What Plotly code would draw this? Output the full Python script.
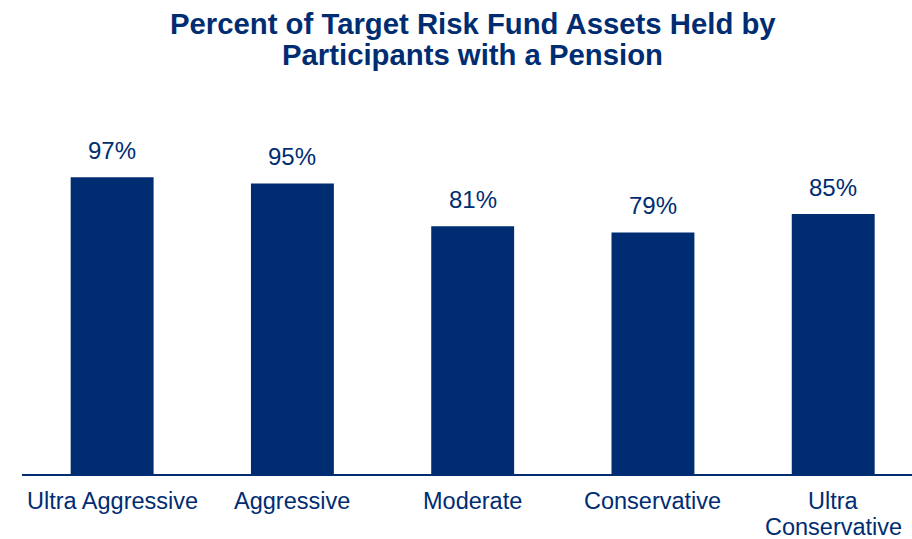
import plotly.graph_objects as go

# Share of target-risk fund assets held by participants who also have a pension
categories = ["Ultra Aggressive", "Aggressive", "Moderate", "Conservative", "Ultra<br>Conservative"]
values = [97, 95, 81, 79, 85]
value_labels = ["97%", "95%", "81%", "79%", "85%"]

title_lines = ["Percent of Target Risk Fund Assets Held by", "Participants with a Pension"]

NAVY = "#002D72"
FONT = "Arial, Liberation Sans, sans-serif"

# Plot area geometry (pixels) used to place text in paper coordinates
PLOT_LEFT, PLOT_WIDTH = 22, 890
PLOT_BOTTOM, PLOT_HEIGHT = 474, 367


def paper_x(px):
    return (px - PLOT_LEFT) / PLOT_WIDTH


def paper_y(py):
    return (PLOT_BOTTOM - py) / PLOT_HEIGHT


fig = go.Figure(
    go.Bar(
        x=categories,
        y=values,
        marker=dict(color=NAVY, line=dict(width=0)),
        hoverinfo="skip",
    )
)

# Percent labels above each bar
for cat, val, lab in zip(categories, values, value_labels):
    fig.add_annotation(
        x=cat, y=val, text=lab, showarrow=False,
        xref="x", yref="y", yanchor="bottom", yshift=11,
        font=dict(family=FONT, size=24, color=NAVY),
    )

# Category names under the axis, one annotation per line for tight line spacing
for cat in categories:
    for i, part in enumerate(cat.split("<br>")):
        fig.add_annotation(
            x=cat, y=paper_y(500.5 + 26 * i), xref="x", yref="paper",
            xanchor="center", yanchor="middle", showarrow=False,
            borderpad=0,
            text=part,
            font=dict(family=FONT, size=23.5, color=NAVY),
        )

# Two-line bold heading
for line, ypx in zip(title_lines, [23.5, 55]):
    fig.add_annotation(
        x=paper_x(473), y=paper_y(ypx),
        xref="paper", yref="paper",
        xanchor="center", yanchor="middle", showarrow=False,
        text=f"<b>{line}</b>",
        font=dict(family=FONT, size=29.3, color=NAVY),
    )

fig.update_layout(
    width=912,
    height=539,
    margin=dict(l=22, r=0, t=107, b=65, autoexpand=False),
    paper_bgcolor="white",
    plot_bgcolor="white",
    bargap=0.54,
    showlegend=False,
    font=dict(family=FONT, color=NAVY),
)

fig.update_xaxes(
    type="category",
    range=[-0.5, 4.437],
    automargin=False,
    showline=True,
    linecolor=NAVY,
    linewidth=2,
    ticks="",
    showgrid=False,
    showticklabels=False,
)
fig.update_yaxes(
    range=[0, 120],
    visible=False,
    showgrid=False,
    automargin=False,
)

fig.write_html("out.html")
